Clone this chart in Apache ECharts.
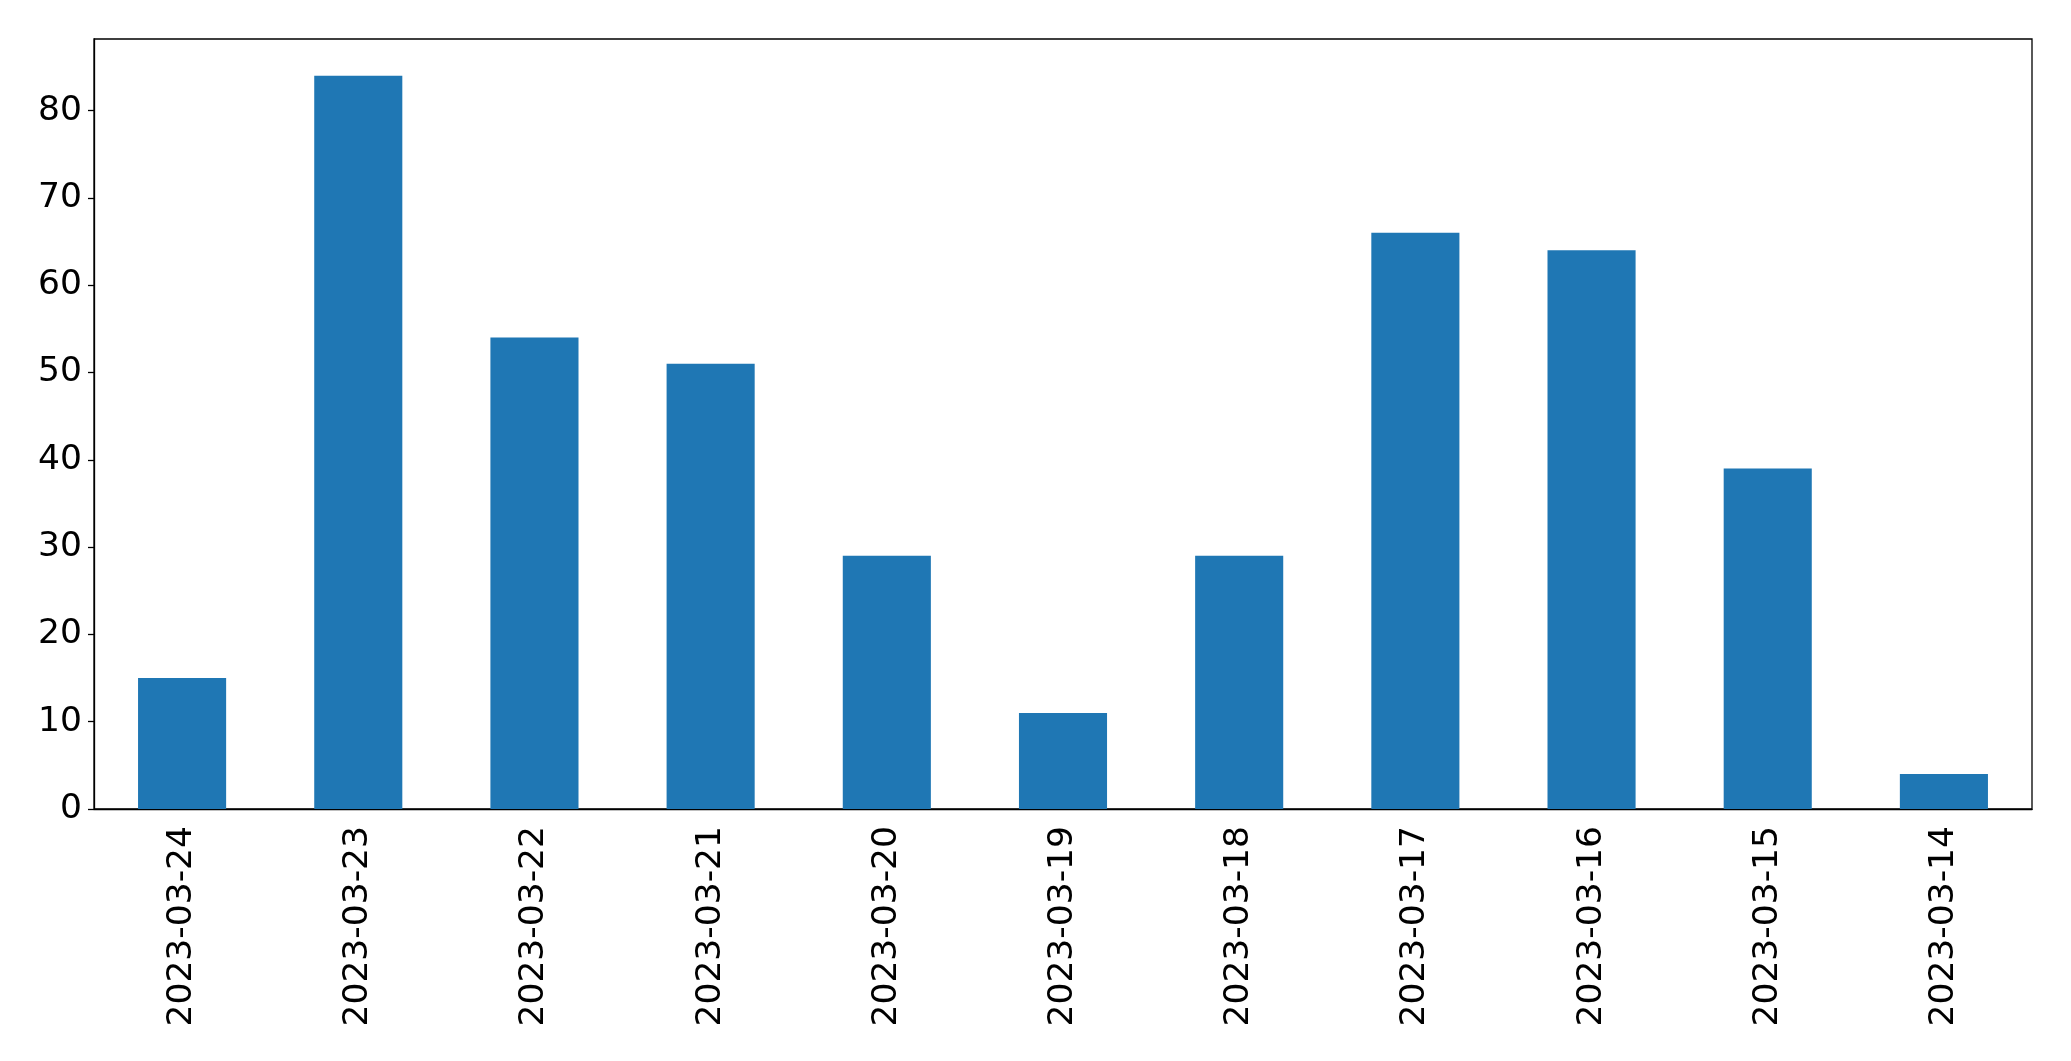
<!DOCTYPE html>
<html><head><meta charset="utf-8">
<script src="https://cdn.jsdelivr.net/npm/echarts@6/dist/echarts.min.js"></script>
<style>html,body{margin:0;padding:0;background:#fff}#c{width:2071px;height:1061px}</style>
</head><body><div id="c"></div>
<script>
const categories = ["2023-03-24","2023-03-23","2023-03-22","2023-03-21","2023-03-20","2023-03-19","2023-03-18","2023-03-17","2023-03-16","2023-03-15","2023-03-14"];
const values = [15, 84, 54, 51, 29, 11, 29, 66, 64, 39, 4];
const yMax = 88.2;
const yInterval = 10;

const chart = echarts.init(document.getElementById('c'), null, {renderer: 'canvas'});
const font = 'DejaVu Sans';
chart.setOption({
  animation: false,
  grid: {left: 94, top: 39, right: 39, bottom: 252, show: true, borderColor: '#000', borderWidth: 1.3, backgroundColor: 'transparent'},
  xAxis: {
    type: 'category', data: categories,
    axisLine: {lineStyle: {color: '#000', width: 1.3}},
    axisTick: {alignWithLabel: true, length: 6, lineStyle: {color: '#000', width: 1.3}},
    axisLabel: {rotate: 90, color: '#000', fontSize: 34.5, fontFamily: font, margin: 17}
  },
  yAxis: {
    type: 'value', min: 0, max: yMax, interval: yInterval,
    splitLine: {show: false},
    axisLine: {show: true, lineStyle: {color: '#000', width: 1.3}},
    axisTick: {show: true, length: 6, lineStyle: {color: '#000', width: 1.3}},
    axisLabel: {color: '#000', fontSize: 34.5, fontFamily: font, margin: 12, showMaxLabel: false}
  },
  series: [{type: 'bar', data: values, barWidth: '50%', itemStyle: {color: '#1f77b4'}}]
});
</script></body></html>
